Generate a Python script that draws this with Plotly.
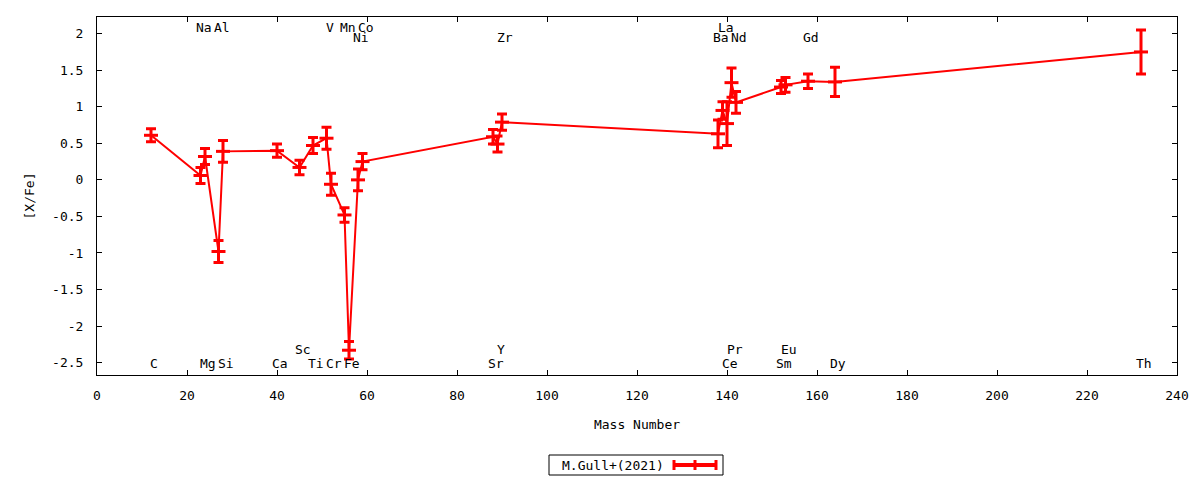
import plotly.graph_objects as go

# abundance pattern, [X/Fe] vs mass number
elements = ["C", "Na", "Mg", "Al", "Si", "Ca", "Sc", "Ti", "V", "Cr", "Mn", "Fe", "Ni", "Co",
            "Sr", "Y", "Zr", "Ba", "La", "Ce", "Pr", "Nd", "Sm", "Eu", "Gd", "Dy", "Th"]
mass_number = [12, 23, 24, 27, 28, 40, 45, 48, 51, 52, 55, 56, 58, 59,
               88, 89, 90, 138, 139, 140, 141, 142, 152, 153, 158, 164, 232]
x_fe = [0.61, 0.06, 0.32, -0.98, 0.39, 0.40, 0.17, 0.47, 0.57, -0.06, -0.48, -2.33, 0.00, 0.25,
        0.59, 0.49, 0.79, 0.63, 0.95, 0.77, 1.33, 1.06, 1.27, 1.30, 1.35, 1.34, 1.75]
x_fe_err = [0.09, 0.11, 0.11, 0.15, 0.15, 0.09, 0.10, 0.11, 0.15, 0.15, 0.10, 0.12, 0.15, 0.11,
            0.10, 0.11, 0.11, 0.19, 0.12, 0.30, 0.20, 0.15, 0.09, 0.10, 0.10, 0.20, 0.30]

x_ticks = [0, 20, 40, 60, 80, 100, 120, 140, 160, 180, 200, 220, 240]
y_ticks = [2, 1.5, 1, 0.5, 0, -0.5, -1, -1.5, -2, -2.5]
series_name = "M.Gull+(2021)"

# which text row each element label sits in (gnuplot-like staggering)
label_row = {
  "C": "bot", "Na": "top", "Mg": "bot", "Al": "top", "Si": "bot", "Ca": "bot", "Sc": "bot2",
  "Ti": "bot", "V": "top", "Cr": "bot", "Mn": "top", "Fe": "bot", "Ni": "top2", "Co": "top",
  "Sr": "bot", "Y": "bot2", "Zr": "top2", "Ba": "top2", "La": "top", "Ce": "bot", "Pr": "bot2",
  "Nd": "top2", "Sm": "bot", "Eu": "bot2", "Gd": "top2", "Dy": "bot", "Th": "bot",
}

W, H = 1200, 480
L, R, T, B = 97, 23, 17, 105
PW, PH = W - L - R, H - T - B
FONT = "DejaVu Sans Mono"
RED = "#ff0000"


def px_x(px):
  return (px - L) / PW


def px_y(py):
  return (H - B - py) / PH


row_y = {"top": px_y(27), "top2": px_y(37), "bot2": px_y(349), "bot": px_y(363)}

fig = go.Figure()
fig.add_trace(go.Scatter(
    x=mass_number,
    y=x_fe,
    mode="lines+markers",
    name=series_name,
    line=dict(color=RED, width=2),
    marker=dict(symbol="line-ew", size=10, color=RED, line=dict(color=RED, width=3)),
    error_y=dict(type="data", array=x_fe_err, visible=True, color=RED, thickness=3, width=5),
    showlegend=False,
))

annotations = []
for el, m in zip(elements, mass_number):
  annotations.append(dict(
      x=m, y=row_y[label_row[el]], xref="x", yref="paper", text=el, showarrow=False,
      xanchor="center", yanchor="middle", xshift=3,
      font=dict(family=FONT, size=13, color="black"),
  ))

# legend box drawn gnuplot style: text on the left, key sample on the right
annotations.append(dict(
    x=px_x(613), y=px_y(465), xref="paper", yref="paper", text=series_name, showarrow=False,
    xanchor="center", yanchor="middle", font=dict(family=FONT, size=13, color="black"),
))
shapes = [
  dict(type="rect", xref="paper", yref="paper", x0=px_x(549), x1=px_x(723), y0=px_y(475), y1=px_y(455),
       line=dict(color="black", width=1), fillcolor="white", layer="below"),
  dict(type="line", xref="paper", yref="paper", x0=px_x(674), x1=px_x(716), y0=px_y(465), y1=px_y(465),
       line=dict(color=RED, width=4)),
]
for cx in (674, 695, 716):
  shapes.append(dict(type="line", xref="paper", yref="paper", x0=px_x(cx), x1=px_x(cx),
                     y0=px_y(470), y1=px_y(460), line=dict(color=RED, width=3)))

fig.update_layout(
  width=W,
  height=H,
  margin=dict(l=L, r=R, t=T, b=B, autoexpand=False),
  paper_bgcolor="white",
  plot_bgcolor="white",
  font=dict(family=FONT, size=13, color="black"),
  annotations=annotations,
  shapes=shapes,
)
fig.update_xaxes(
  range=[0, 240], tickvals=x_ticks, ticktext=[str(v) for v in x_ticks],
  ticks="inside", ticklen=5, tickcolor="black", showline=True, linecolor="black", linewidth=1,
  mirror="ticks", showgrid=False, zeroline=False, ticklabelstandoff=8,
  title=dict(text="Mass Number", standoff=18, font=dict(size=13)),
)
fig.update_yaxes(
  range=[-2.669, 2.228], tickvals=y_ticks, ticktext=[("%g" % v) for v in y_ticks],
  ticks="inside", ticklen=5, tickcolor="black", showline=True, linecolor="black", linewidth=1,
  mirror="ticks", showgrid=False, zeroline=False, ticklabelstandoff=10,
  title=dict(text="[X/Fe]", standoff=14, font=dict(size=13)),
)

# drop the default page margin so the figure sits at the window's top-left corner
fig.write_html("out.html", config={"displayModeBar": False},
               post_script="document.body.style.margin='0';")
